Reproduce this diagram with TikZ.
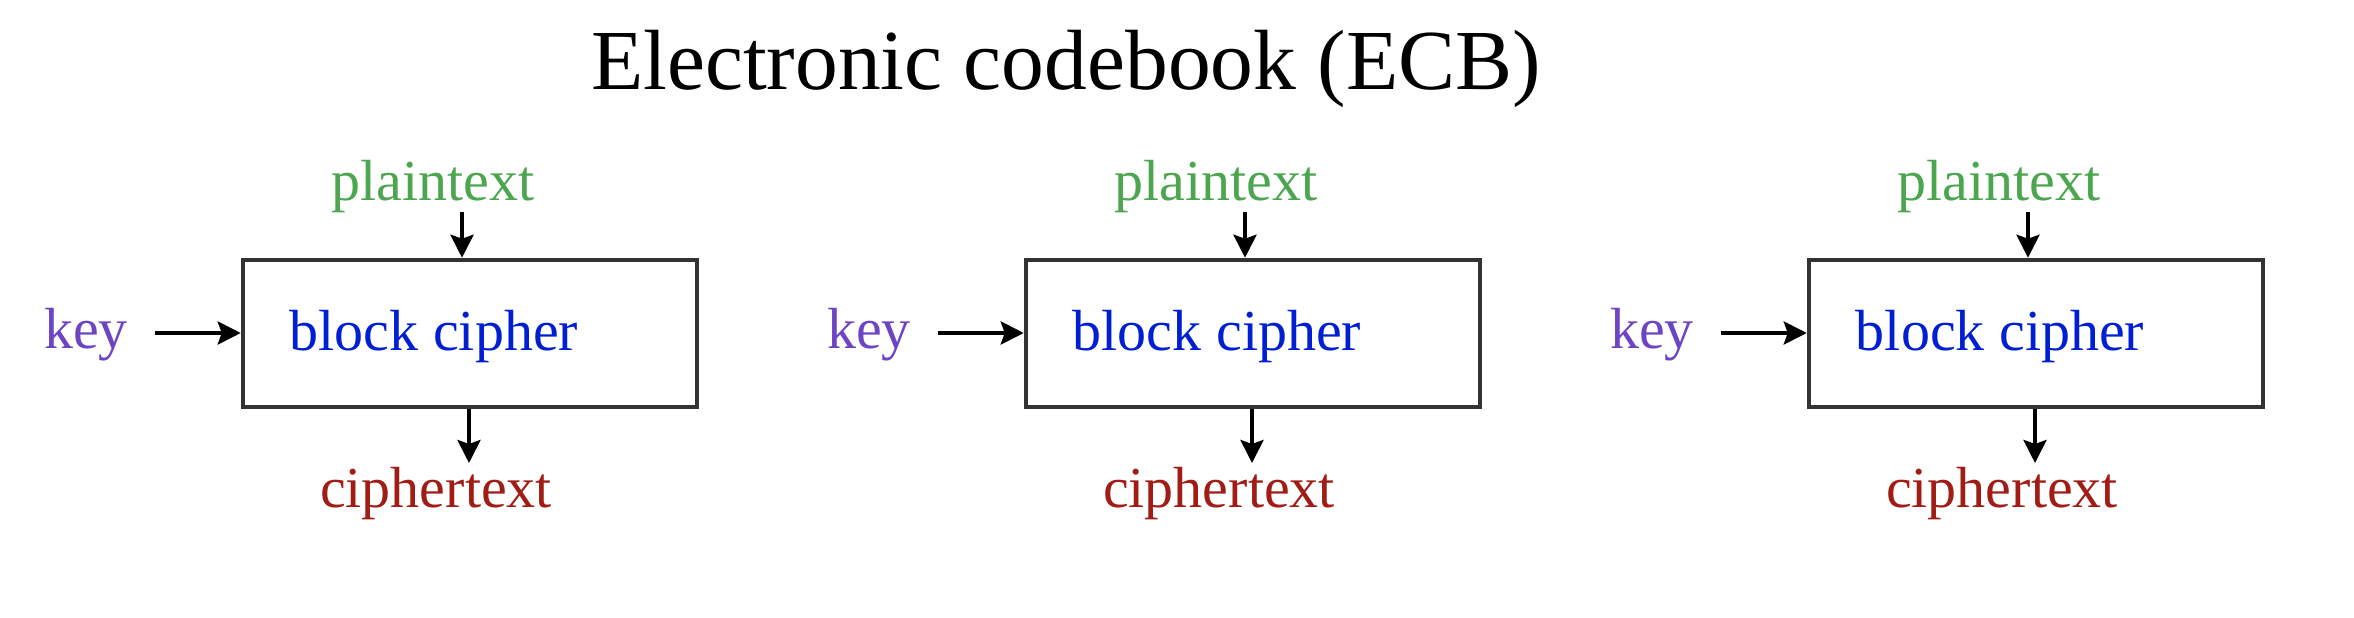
\documentclass[tikz,border=0pt]{standalone}
\usepackage{fontspec}
\setmainfont{Liberation Serif}
\usetikzlibrary{arrows.meta}
\definecolor{ptgreen}{RGB}{76,166,80}
\definecolor{keypurple}{RGB}{108,68,196}
\definecolor{bcblue}{RGB}{0,30,210}
\definecolor{ctred}{RGB}{160,28,20}
\definecolor{boxgray}{RGB}{51,51,51}
\tikzset{
  lbl/.style={inner sep=0pt, anchor=base, font=\fontsize{58}{70}\selectfont},
  cbox/.style={draw=boxgray, line width=4.5pt, rectangle, minimum width=454pt, minimum height=147pt, inner sep=0pt},
  arr/.style={line width=4pt, -{Stealth[length=23pt,width=23pt,inset=4pt]}},
}
\begin{document}
\begin{tikzpicture}[x=1pt,y=-1pt]
\useasboundingbox (0,0) rectangle (2354,618);
\node[inner sep=0pt, anchor=base, font=\fontsize{85.5}{100}\selectfont] (title) at (1066,89) {Electronic codebook (ECB)};
\foreach \i/\dx in {1/0,2/783,3/1566}{
  \node[cbox] (box\i) at (470+\dx,333.5) {};
  \node[lbl, text=bcblue] (bc\i) at (434+\dx,350) {block cipher};
  \node[lbl, text=keypurple] (key\i) at (86+\dx,348) {key};
  \node[lbl, text=ptgreen] (pt\i) at (433+\dx,200) {plaintext};
  \node[lbl, text=ctred] (ct\i) at (436+\dx,507) {ciphertext};
  \coordinate (ptA\i) at (462+\dx,212);
  \coordinate (ctA\i) at (469+\dx,463);
  \coordinate (keyA\i) at (155+\dx,333);
  \draw[arr] (ptA\i) -- (ptA\i |- box\i.north);
  \draw[arr] (ctA\i |- box\i.south) -- (ctA\i);
  \draw[arr] (keyA\i) -- (keyA\i -| box\i.west);
}
\end{tikzpicture}
\end{document}
